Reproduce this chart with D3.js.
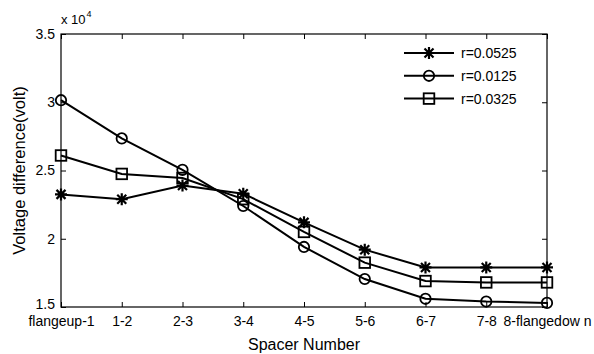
<!DOCTYPE html>
<html>
<head>
<meta charset="utf-8">
<script src="https://cdn.jsdelivr.net/npm/d3@7"></script>
<style>
  html, body { margin: 0; padding: 0; background: #fff; }
  svg { display: block; font-family: "Liberation Sans", Arial, sans-serif; }
</style>
</head>
<body>
<svg id="chart" width="594" height="354"></svg>
<script>
// Spacer positions along the bushing
const categories = ["flangeup-1", "1-2", "2-3", "3-4", "4-5", "5-6", "6-7", "7-8", "8-flangedow n"];

// Voltage difference (volt) for each radius
const seriesNames = ["r=0.0525", "r=0.0125", "r=0.0325"];
const valuesR0525 = [23250, 22900, 23900, 23300, 21200, 19200, 17900, 17900, 17900];
const valuesR0125 = [30150, 27350, 25050, 22400, 19400, 17050, 15600, 15400, 15300];
const valuesR0325 = [26100, 24750, 24450, 22900, 20500, 18250, 16900, 16800, 16800];
const markers = ["star", "circle", "square"];

const yTicks = [15000, 20000, 25000, 30000, 35000];
const yTickLabels = ["1.5", "2", "2.5", "3", "3.5"];

const margin = { left: 61, right: 47, top: 34, bottom: 47 };
const W = 594, H = 354;
const svg = d3.select("#chart");

const x = d3.scalePoint().domain(categories).range([margin.left, W - margin.right]);
const y = d3.scaleLinear().domain([15000, 35000]).range([H - margin.bottom, margin.top]);

const x0 = margin.left, x1 = W - margin.right, y0 = H - margin.bottom, y1 = margin.top;
const FONT = "Liberation Sans, Arial, sans-serif";

// plot frame
svg.append("rect")
  .attr("x", x0).attr("y", y1)
  .attr("width", x1 - x0).attr("height", y0 - y1)
  .attr("fill", "none").attr("stroke", "#000").attr("stroke-width", 1.2);

// bottom axis with inward ticks
const xAxis = d3.axisBottom(x).tickSizeInner(-5).tickSizeOuter(0).tickPadding(9);
const gx = svg.append("g").attr("transform", `translate(0,${y0})`).call(xAxis);
gx.select(".domain").remove();
gx.selectAll("text").attr("font-size", 14).attr("fill", "#000").attr("font-family", FONT);

// top axis ticks (no labels)
const gxt = svg.append("g").attr("transform", `translate(0,${y1})`)
  .call(d3.axisTop(x).tickSizeInner(-5).tickSizeOuter(0).tickFormat(""));
gxt.select(".domain").remove();

// left axis
const yAxis = d3.axisLeft(y).tickValues(yTicks)
  .tickFormat((d, i) => yTickLabels[i]).tickSizeInner(-5).tickSizeOuter(0).tickPadding(6);
const gy = svg.append("g").attr("transform", `translate(${x0},0)`).call(yAxis);
gy.select(".domain").remove();
gy.selectAll("text").attr("font-size", 14).attr("fill", "#000").attr("font-family", FONT);
// lift the bottom label a little so it clears the category labels
gy.selectAll(".tick").filter(d => d === 15000).select("text").attr("dy", "0.12em");

// right axis ticks (no labels)
const gyr = svg.append("g").attr("transform", `translate(${x1},0)`)
  .call(d3.axisRight(y).tickValues(yTicks).tickSizeInner(-5).tickSizeOuter(0).tickFormat(""));
gyr.select(".domain").remove();

svg.selectAll(".tick line").attr("stroke", "#000");

// exponent label
const expo = svg.append("text").attr("x", x0).attr("y", 24)
  .attr("font-size", 13).attr("fill", "#000");
expo.append("tspan").text("x 10");
expo.append("tspan").attr("font-size", 9).attr("dy", -7).attr("dx", 1).text("4");

// axis titles
svg.append("text").attr("x", (x0 + x1) / 2).attr("y", 350)
  .attr("text-anchor", "middle").attr("font-size", 16).attr("fill", "#000")
  .text("Spacer Number");
svg.append("text").attr("transform", `translate(25,${(y0 + y1) / 2}) rotate(-90)`)
  .attr("text-anchor", "middle").attr("font-size", 16.5).attr("fill", "#000")
  .text("Voltage difference(volt)");

// marker drawing
function drawMarker(g, type, cx, cy) {
  if (type === "circle") {
    g.append("circle").attr("cx", cx).attr("cy", cy).attr("r", 5.2)
      .attr("fill", "none").attr("stroke", "#000").attr("stroke-width", 1.8);
  } else if (type === "square") {
    g.append("rect").attr("x", cx - 5.3).attr("y", cy - 5.3)
      .attr("width", 10.6).attr("height", 10.6)
      .attr("fill", "none").attr("stroke", "#000").attr("stroke-width", 1.8);
  } else {
    const s = 6, d = 4.5;
    const p = `M${cx - s},${cy}L${cx + s},${cy}M${cx},${cy - s}L${cx},${cy + s}` +
      `M${cx - d},${cy - d}L${cx + d},${cy + d}M${cx - d},${cy + d}L${cx + d},${cy - d}`;
    g.append("path").attr("d", p).attr("stroke", "#000").attr("stroke-width", 2.2).attr("fill", "none");
  }
}

const allSeries = [valuesR0525, valuesR0125, valuesR0325];
const line = d3.line().x((d, i) => x(categories[i])).y(d => y(d));

allSeries.forEach((vals, si) => {
  const g = svg.append("g");
  g.append("path").datum(vals).attr("d", line)
    .attr("fill", "none").attr("stroke", "#000").attr("stroke-width", 2);
  vals.forEach((v, i) => drawMarker(g, markers[si], x(categories[i]), y(v)));
});

// legend
const legend = svg.append("g");
seriesNames.forEach((name, i) => {
  const ly = 53 + i * 22.8;
  legend.append("line").attr("x1", 404).attr("x2", 454).attr("y1", ly).attr("y2", ly)
    .attr("stroke", "#000").attr("stroke-width", 2);
  drawMarker(legend, markers[i], 429, ly);
  legend.append("text").attr("x", 461).attr("y", ly + 5)
    .attr("font-size", 14).attr("fill", "#000").attr("font-family", FONT).text(name);
});
</script>
</body>
</html>
